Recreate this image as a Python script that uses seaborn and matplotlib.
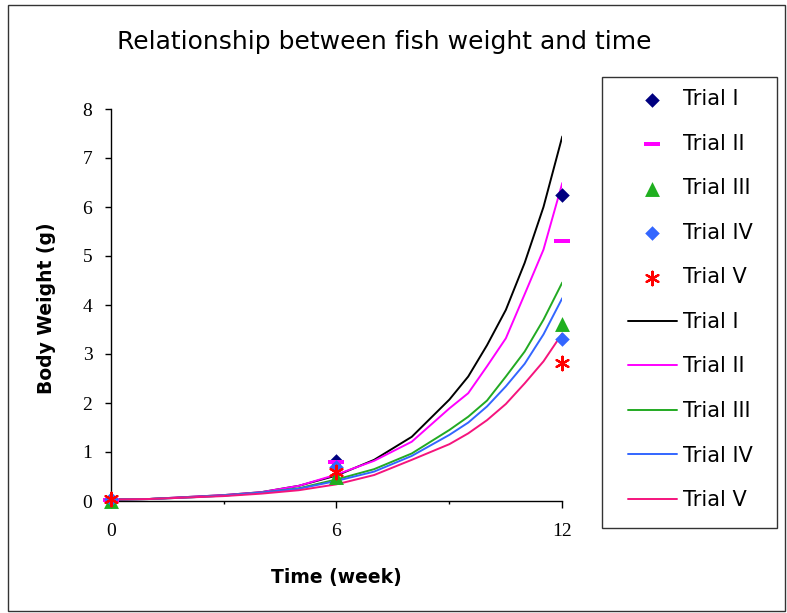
import numpy as np
import pandas as pd
import matplotlib
matplotlib.use("Agg")
import matplotlib.pyplot as plt
import seaborn as sns
from matplotlib.patches import Rectangle

# ---------------- data ----------------
trials = ["Trial I", "Trial II", "Trial III", "Trial IV", "Trial V"]

obs_weeks = [0, 6, 12]
obs_I = [0.03, 0.82, 6.24]
obs_II = [0.03, 0.80, 5.31]
obs_III = [0.01, 0.50, 3.62]
obs_IV = [0.04, 0.69, 3.31]
obs_V = [0.04, 0.60, 2.82]

fit_weeks = [0, 1, 2, 3, 4, 5, 6, 7, 8, 9, 9.5, 10, 10.5, 11, 11.5, 12]
fit_I = [0.03, 0.04, 0.08, 0.12, 0.18, 0.31, 0.52, 0.84, 1.31, 2.07, 2.54, 3.18, 3.90, 4.86, 6.00, 7.44]
fit_II = [0.03, 0.04, 0.08, 0.12, 0.18, 0.31, 0.54, 0.82, 1.21, 1.89, 2.20, 2.75, 3.32, 4.22, 5.13, 6.49]
fit_III = [0.03, 0.04, 0.07, 0.11, 0.17, 0.26, 0.44, 0.65, 0.97, 1.45, 1.72, 2.05, 2.54, 3.05, 3.70, 4.46]
fit_IV = [0.03, 0.04, 0.07, 0.11, 0.17, 0.25, 0.41, 0.60, 0.92, 1.35, 1.60, 1.93, 2.34, 2.80, 3.40, 4.14]
fit_V = [0.03, 0.04, 0.07, 0.10, 0.15, 0.22, 0.34, 0.53, 0.84, 1.16, 1.38, 1.65, 1.98, 2.40, 2.85, 3.42]

x_major_ticks = [0, 6, 12]
x_minor_ticks = [3, 9]
y_ticks = [0, 1, 2, 3, 4, 5, 6, 7, 8]

# ---------------- styling ----------------
sns.set_style("ticks")
plt.rcParams["font.family"] = ["DejaVu Sans"]

W, H = 787, 613
fig = plt.figure(figsize=(W / 100, H / 100), dpi=100)
fig.patch.set_facecolor("white")

def fx(px):
    return px / W

def fy(py):
    return 1 - py / H

ax = fig.add_axes([fx(110.7), fy(501), (562.3 - 110.7) / W, (501 - 109) / H])
ax.set_facecolor("white")

obs_df = pd.DataFrame({"week": obs_weeks * 5,
                       "weight": obs_I + obs_II + obs_III + obs_IV + obs_V,
                       "trial": [t for t in trials for _ in obs_weeks]})
fit_df = pd.DataFrame({"week": fit_weeks * 5,
                       "weight": fit_I + fit_II + fit_III + fit_IV + fit_V,
                       "trial": [t for t in trials for _ in fit_weeks]})

dash = [(-1, -0.32), (1, -0.32), (1, 0.32), (-1, 0.32), (-1, -0.32)]
marker_styles = {
    "Trial I": dict(marker="D", s=55, color="#000080"),
    "Trial II": dict(marker=dash, s=125, color="#FF00FF"),
    "Trial III": dict(marker="^", s=115, color="#1FAF1F"),
    "Trial IV": dict(marker="D", s=55, color="#3366FF"),
    "Trial V": dict(marker=(6, 2, 0), s=95, color="#FF0000"),
}
line_colors = {
    "Trial I": "#000000",
    "Trial II": "#FF00FF",
    "Trial III": "#22AA22",
    "Trial IV": "#3366FF",
    "Trial V": "#F5147D",
}

for t in trials:
    st = marker_styles[t]
    sub = obs_df[obs_df["trial"] == t]
    lw = 1.6 if t == "Trial V" else 0
    sns.scatterplot(data=sub, x="week", y="weight", marker=st["marker"], s=st["s"],
                    color=st["color"], edgecolor=st["color"], linewidth=lw,
                    label=t, ax=ax, zorder=3, clip_on=False)

for t in trials:
    sub = fit_df[fit_df["trial"] == t]
    sns.lineplot(data=sub, x="week", y="weight", color=line_colors[t], linewidth=1.4,
                 label=t, ax=ax, zorder=2)

handles, labels = ax.get_legend_handles_labels()
if ax.get_legend() is not None:
    ax.get_legend().remove()

# ---------------- axes ----------------
ax.set_xlim(0, 12)
ax.set_ylim(0, 8)
ax.set_xticks(x_major_ticks)
ax.set_xticks(x_minor_ticks, minor=True)
ax.set_yticks(y_ticks)
ax.set_xlabel("")
ax.set_ylabel("")
for side in ["top", "right"]:
    ax.spines[side].set_visible(False)
for side in ["left", "bottom"]:
    ax.spines[side].set_color("black")
    ax.spines[side].set_linewidth(1.0)

ax.tick_params(axis="x", which="major", direction="out", length=4.8, width=1, color="black", pad=11)
ax.tick_params(axis="x", which="minor", direction="out", length=2.4, width=1, color="black")
ax.tick_params(axis="y", which="major", direction="out", length=4.2, width=1, color="black", pad=9)
for lab in ax.get_xticklabels() + ax.get_yticklabels():
    lab.set_fontfamily("Liberation Serif")
    lab.set_fontsize(14)
    lab.set_color("black")

# ---------------- texts ----------------
fig.text(fx(384), fy(42), "Relationship between fish weight and time",
         ha="center", va="center", fontsize=18, color="black")
fig.text(fx(336.5), fy(578), "Time (week)", ha="center", va="center",
         fontsize=13.5, fontweight="bold", color="black")
fig.text(fx(47), fy(308), "Body Weight (g)", ha="center", va="center", rotation=90,
         fontsize=13.5, fontweight="bold", color="black")

# ---------------- legend ----------------
leg = fig.legend(handles, labels, loc="upper left", bbox_to_anchor=(fx(628), fy(89)),
                 frameon=False, fontsize=15, handlelength=2.35, handletextpad=0.3,
                 labelspacing=1.18, borderpad=0, borderaxespad=0, scatterpoints=1)
for txt in leg.get_texts():
    txt.set_color("black")

fig.add_artist(Rectangle((fx(601.7), fy(528)), (776.7 - 601.7) / W, (528 - 76.7) / H,
                         transform=fig.transFigure, fill=False, edgecolor="#333333",
                         linewidth=1.0))
fig.add_artist(Rectangle((fx(8), fy(611)), (785 - 8) / W, (611 - 5) / H,
                         transform=fig.transFigure, fill=False, edgecolor="#333333",
                         linewidth=1.0))

fig.savefig("out.png", dpi=100)
